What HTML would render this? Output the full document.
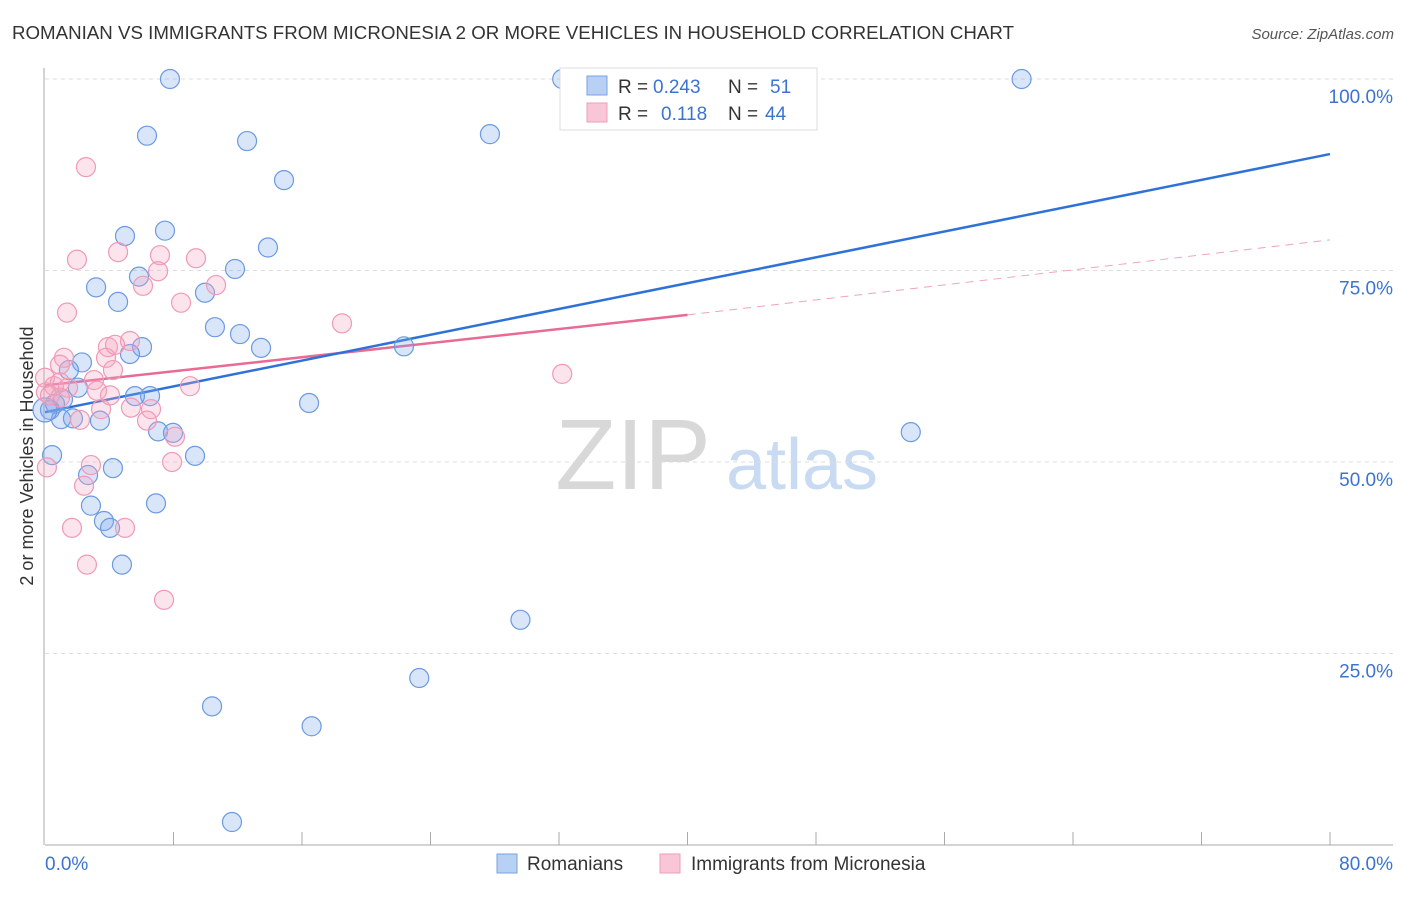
<!DOCTYPE html>
<html><head><meta charset="utf-8"><style>
body{margin:0;background:#fff;font-family:"Liberation Sans",sans-serif}
svg text{font-family:"Liberation Sans",sans-serif}
</style></head><body>
<svg id="chart" width="1406" height="892" xmlns="http://www.w3.org/2000/svg">
<text x="12" y="39" font-size="18" fill="#333" textLength="1002" lengthAdjust="spacingAndGlyphs">ROMANIAN VS IMMIGRANTS FROM MICRONESIA 2 OR MORE VEHICLES IN HOUSEHOLD CORRELATION CHART</text>
<text x="1394" y="39" font-size="15" fill="#555" font-style="italic" text-anchor="end">Source: ZipAtlas.com</text>
<text transform="translate(33,456) rotate(-90)" font-size="18" fill="#333" text-anchor="middle">2 or more Vehicles in Household</text>
<g>
<text x="633" y="489" font-size="100" fill="#d8d8d8" font-family="Liberation Serif,serif" text-anchor="middle">ZIP</text>
<text x="802" y="489" font-size="72" fill="#c9dbf2" text-anchor="middle">atlas</text>
</g>
<g id="grid"></g><g id="axes"></g><g id="lines"></g><g id="points"></g>
<g>
<rect x="560" y="68" width="257" height="62" fill="#fff" stroke="#ddd"/>
<rect x="587" y="76" width="20" height="19" fill="#b7d0f3" stroke="#7aa3e0"/>
<rect x="587" y="103" width="20" height="19" fill="#f8c6d6" stroke="#ee9db8"/>
<text x="618" y="93" font-size="19" fill="#333">R =</text>
<text x="653" y="93" font-size="19" fill="#3b74d0">0.243</text>
<text x="728" y="93" font-size="19" fill="#333">N =</text>
<text x="770" y="93" font-size="19" fill="#3b74d0">51</text>
<text x="618" y="120" font-size="19" fill="#333">R =</text>
<text x="661" y="120" font-size="19" fill="#3b74d0">0.118</text>
<text x="728" y="120" font-size="19" fill="#333">N =</text>
<text x="765" y="120" font-size="19" fill="#3b74d0">44</text>
</g>
<g>
<rect x="497" y="854" width="20" height="19" fill="#b7d0f3" stroke="#7aa3e0"/>
<text x="527" y="870" font-size="19" fill="#333">Romanians</text>
<rect x="660" y="854" width="20" height="19" fill="#f8c6d6" stroke="#ee9db8"/>
<text x="691" y="870" font-size="19" fill="#333">Immigrants from Micronesia</text>
</g>
</svg>
<script>
const blueX=[7.78,32.2,60.8,6.35,12.58,27.7,14.88,4.98,7.47,13.88,11.83,5.85,3.18,9.96,4.55,10.58,12.14,6.04,5.29,13.45,22.35,2.30,1.49,2.05,1.12,6.54,5.60,0.62,0.31,16.44,1.0,1.74,3.42,7.04,7.97,53.9,0.44,9.34,4.23,2.68,2.86,6.91,3.67,4.05,4.79,29.6,23.3,10.4,16.6,11.64,0.0];
const blueY=[100,100,100,92.6,91.9,92.8,86.8,79.5,80.2,78.0,75.2,74.2,72.8,72.1,70.9,67.6,66.7,65.0,64.1,64.9,65.1,63.0,62.0,59.7,58.2,58.6,58.6,57.6,56.8,57.7,55.6,55.7,55.4,54.0,53.8,53.9,50.9,50.8,49.2,48.3,44.3,44.6,42.3,41.4,36.6,29.4,21.8,18.1,15.5,3.0,56.8];
const pinkX=[2.55,1.99,4.55,7.16,9.40,7.04,6.10,10.65,8.47,1.37,18.49,5.29,3.92,1.18,3.80,0.93,4.23,3.05,32.2,9.03,0.56,1.43,3.24,0.06,0.93,5.35,3.49,6.60,2.18,6.35,8.09,2.86,7.91,0.12,2.43,1.68,4.98,2.61,7.41,0,0.93,4.36,4.05,0.31];
const pinkY=[88.5,76.4,77.4,77.0,76.6,74.9,73.0,73.1,70.8,69.5,68.1,65.8,65.0,63.6,63.6,62.7,62.0,60.7,61.5,59.9,59.9,59.7,59.3,59.1,58.4,57.1,56.9,56.9,55.5,55.4,53.3,49.6,50.0,49.3,46.9,41.4,41.4,36.6,32.0,61.0,60.4,65.3,58.7,58.7];
const blueTrend=[56.5,90.2];
const pinkTrend=[60.0,69.2,79.0];
const yTicks=[100,75,50,25];
const xTickLabels=["0.0%","80.0%"];
const X0=45,X1=1330,Y0=845,Y100=79;
const sx=v=>X0+(X1-X0)*v/80, sy=v=>Y0-(Y0-Y100)*v/100;
const NS="http://www.w3.org/2000/svg";
function mk(p,t,a){const e=document.createElementNS(NS,t);for(const k in a)e.setAttribute(k,a[k]);document.getElementById(p).appendChild(e);return e;}
yTicks.forEach(v=>{
 const l=mk('grid','line',{x1:45,x2:1393,y1:sy(v),y2:sy(v),stroke:'#ddd','stroke-dasharray':'4,4'});
 
 
 const t=mk('grid','text',{x:1393,y:sy(v)+24,'font-size':19,fill:'#3b74d0','text-anchor':'end'});
 t.textContent=v.toFixed(1)+'%';
 
 
});
const ax=mk('axes','line',{x1:44,x2:44,y1:68,y2:845,stroke:'#aaa'});


const bx=mk('axes','line',{x1:45,x2:1393,y1:845,y2:845,stroke:'#aaa'});


for(let i=1;i<=10;i++){const t=mk('axes','line',{x1:sx(i*8),x2:sx(i*8),y1:832,y2:845,stroke:'#aaa'});
 
 }
[[0,'start',45],[1,'end',1393]].forEach(([i,a,x])=>{const t=mk('axes','text',{x:x,y:870,'font-size':19,fill:'#3b74d0','text-anchor':a});t.textContent=xTickLabels[i];
 
 });
const pl=mk('lines','line',{x1:sx(0),y1:sy(pinkTrend[0]),x2:sx(40),y2:sy(pinkTrend[1]),stroke:'#e86a95','stroke-width':2.5});


const pd=mk('lines','line',{x1:sx(40),y1:sy(pinkTrend[1]),x2:sx(80),y2:sy(pinkTrend[2]),stroke:'#eea3bc','stroke-width':1,'stroke-dasharray':'8,6'});


const bl=mk('lines','line',{x1:sx(0),y1:sy(blueTrend[0]),x2:sx(80),y2:sy(blueTrend[1]),stroke:'#2e72d8','stroke-width':2.5});


blueX.forEach((x,i)=>{const c=mk('points','circle',{cx:sx(x),cy:sy(blueY[i]),r:i==blueX.length-1?12:9.5,fill:'rgba(130,170,235,0.3)',stroke:'#6b9ae0','stroke-width':1.2});
 
 });
pinkX.forEach((x,i)=>{const c=mk('points','circle',{cx:sx(x),cy:sy(pinkY[i]),r:9.5,fill:'rgba(245,165,192,0.3)',stroke:'#ef9ab7','stroke-width':1.2});
 
 });
</script>
</body></html>
